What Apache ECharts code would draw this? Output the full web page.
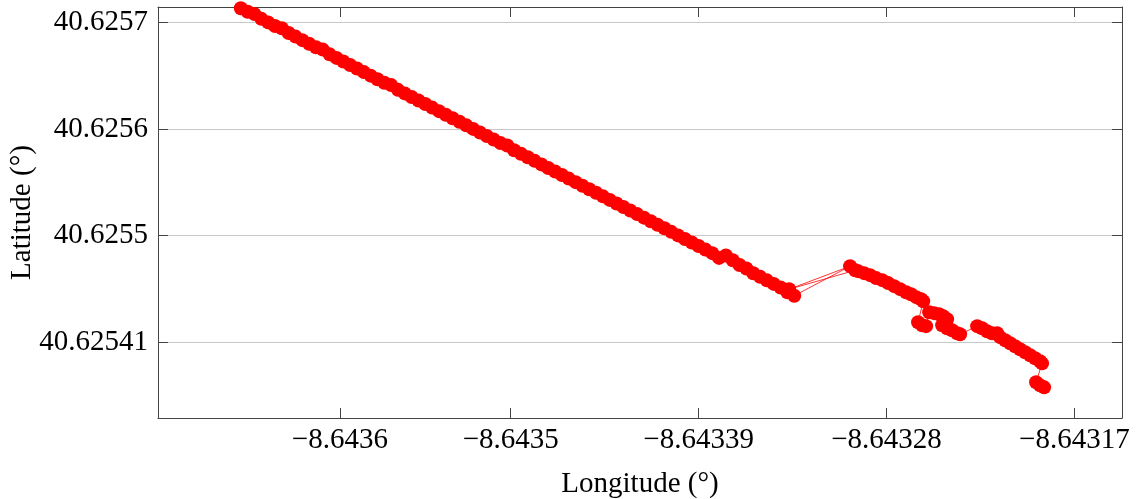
<!DOCTYPE html>
<html>
<head>
<meta charset="utf-8">
<script src="https://cdn.jsdelivr.net/npm/echarts@6/dist/echarts.min.js"></script>
<style>
  html, body { margin: 0; padding: 0; background: #fff; }
  #chart { width: 1140px; height: 499px; }
</style>
</head>
<body>
<div id="chart"></div>
<script>
// GPS track, longitude / latitude in degrees
const lonValues = [
  -8.643658, -8.643654, -8.643650, -8.643646, -8.643642, -8.643638, -8.643634, -8.643630,
  -8.643626, -8.643622, -8.643618, -8.643614, -8.643610, -8.643606, -8.643602, -8.643598,
  -8.643594, -8.643590, -8.643586, -8.643582, -8.643578, -8.643574, -8.643570, -8.643566,
  -8.643562, -8.643558, -8.643554, -8.643550, -8.643546, -8.643542, -8.643538, -8.643534,
  -8.643530, -8.643526, -8.643522, -8.643518, -8.643514, -8.643510, -8.643506, -8.643502,
  -8.643498, -8.643494, -8.643490, -8.643486, -8.643482, -8.643478, -8.643474, -8.643470,
  -8.643466, -8.643462, -8.643458, -8.643454, -8.643450, -8.643446, -8.643442, -8.643438,
  -8.643434, -8.643430, -8.643426, -8.643422, -8.643418, -8.643414, -8.643410, -8.643406,
  -8.643402, -8.643398, -8.643394, -8.643390, -8.643386, -8.643382, -8.643378, -8.643374,
  -8.643370, -8.643366, -8.643362, -8.643358, -8.643354, -8.643350, -8.643346, -8.643342,
  -8.643338, -8.643334,
  -8.6433013, -8.6433370,
  -8.6432983, -8.6432966, -8.6432931, -8.6432896, -8.6432861, -8.6432825, -8.6432790,
  -8.6432755, -8.6432720, -8.6432685, -8.6432656, -8.6432626, -8.6432597, -8.6432585,
  -8.6432615, -8.6432591, -8.6432568,
  -8.6432550, -8.6432521, -8.6432492, -8.6432468, -8.6432445, -8.6432451, -8.6432474,
  -8.6432445, -8.6432416, -8.6432386, -8.6432369,
  -8.6432269, -8.6432240, -8.6432211, -8.6432182, -8.6432152, -8.6432135, -8.6432105,
  -8.6432076, -8.6432047, -8.6432018, -8.6431988, -8.6431959, -8.6431930, -8.6431901,
  -8.6431889,
  -8.6431924, -8.6431901, -8.6431877
];
const latValues = [
  40.625692, 40.625689, 40.625687, 40.625683, 40.625680, 40.625677, 40.625675, 40.625671,
  40.625668, 40.625665, 40.625662, 40.625659, 40.625657, 40.625653, 40.625650, 40.625647,
  40.625644, 40.625641, 40.625638, 40.625635, 40.625632, 40.625629, 40.625627, 40.625623,
  40.625620, 40.625617, 40.625614, 40.625611, 40.625608, 40.625605, 40.625602, 40.625599,
  40.625596, 40.625593, 40.625590, 40.625587, 40.625584, 40.625581, 40.625578, 40.625576,
  40.625572, 40.625569, 40.625566, 40.625563, 40.625560, 40.625557, 40.625554, 40.625551,
  40.625548, 40.625545, 40.625542, 40.625539, 40.625536, 40.625533, 40.625530, 40.625527,
  40.625524, 40.625521, 40.625518, 40.625515, 40.625512, 40.625509, 40.625506, 40.625503,
  40.625500, 40.625497, 40.625494, 40.625491, 40.625488, 40.625485, 40.625481, 40.625483,
  40.625479, 40.625475, 40.625472, 40.625468, 40.625465, 40.625462, 40.625459, 40.625456,
  40.625452, 40.625449,
  40.6254740, 40.6254545,
  40.6254705, 40.6254698, 40.6254681, 40.6254664, 40.6254639, 40.6254622, 40.6254597,
  40.6254571, 40.6254546, 40.6254520, 40.6254503, 40.6254478, 40.6254461, 40.6254444,
  40.6254266, 40.6254241, 40.6254233,
  40.6254351, 40.6254343, 40.6254334, 40.6254317, 40.6254292, 40.6254266, 40.6254241,
  40.6254216, 40.6254199, 40.6254173, 40.6254165,
  40.6254233, 40.6254216, 40.6254190, 40.6254173, 40.6254173, 40.6254140, 40.6254114,
  40.6254089, 40.6254063, 40.6254038, 40.6254013, 40.6253987, 40.6253962, 40.6253936,
  40.6253919,
  40.6253759, 40.6253733, 40.6253716
];

const xTickValues = [-8.6436, -8.6435, -8.64339, -8.64328, -8.64317];
const xTickLabels = ['\u22128.6436', '\u22128.6435', '\u22128.64339', '\u22128.64328', '\u22128.64317'];
const yTickValues = [40.62541, 40.6255, 40.62559, 40.62568];
const yTickLabels = ['40.62541', '40.6255', '40.6256', '40.6257'];

const xMin = -8.6437065, xMax = -8.6431421;
const yMin = 40.6253457, yMax = 40.625693;

const FONT = '"Liberation Serif", "DejaVu Serif", serif';
const AXIS_COLOR = '#444';

const pickLabel = (values, labels) => (v) => {
  let best = 0;
  values.forEach((t, i) => {
    if (Math.abs(t - v) < Math.abs(values[best] - v)) best = i;
  });
  return labels[best];
};

const trackData = lonValues.map((lon, i) => [lon, latValues[i]]);

const chart = echarts.init(document.getElementById('chart'));

const baseX = {
  type: 'value',
  min: xMin,
  max: xMax,
  axisLine: { show: true, onZero: false, lineStyle: { color: AXIS_COLOR, width: 1 } },
  axisTick: { show: true, inside: true, length: 10, customValues: xTickValues, lineStyle: { color: AXIS_COLOR } },
  splitLine: { show: false },
};
const baseY = {
  type: 'value',
  min: yMin,
  max: yMax,
  axisLine: { show: true, onZero: false, lineStyle: { color: AXIS_COLOR, width: 1 } },
  axisTick: { show: true, inside: true, length: 10, customValues: yTickValues, lineStyle: { color: AXIS_COLOR } },
};

const option = {
  animation: false,
  grid: { left: 158, right: 18, top: 7, bottom: 81, containLabel: false, outerBoundsMode: 'none' },
  xAxis: [
    Object.assign({}, baseX, {
      position: 'bottom',
      name: 'Longitude (°)',
      nameLocation: 'middle',
      nameGap: 52,
      nameMoveOverlap: false,
      nameTextStyle: { fontFamily: FONT, fontSize: 29, color: '#000' },
      axisLabel: {
        customValues: xTickValues,
        formatter: pickLabel(xTickValues, xTickLabels),
        fontFamily: FONT, fontSize: 29, color: '#000', margin: 8,
      },
    }),
    Object.assign({}, baseX, { position: 'top', axisLabel: { show: false } }),
  ],
  yAxis: [
    Object.assign({}, baseY, {
      position: 'left',
      name: 'Latitude (°)',
      nameLocation: 'middle',
      nameGap: 121,
      nameMoveOverlap: false,
      nameTextStyle: { fontFamily: FONT, fontSize: 29, color: '#000' },
      axisLabel: {
        customValues: yTickValues,
        formatter: pickLabel(yTickValues, yTickLabels),
        fontFamily: FONT, fontSize: 29, color: '#000', margin: 10,
      },
      splitLine: { show: true, lineStyle: { color: '#c8c8c8', width: 1.2 } },
    }),
    Object.assign({}, baseY, { position: 'right', axisLabel: { show: false }, splitLine: { show: false } }),
  ],
  series: [
    {
      type: 'line',
      data: trackData,
      symbol: 'circle',
      symbolSize: 14,
      showSymbol: true,
      itemStyle: { color: '#ff0000' },
      lineStyle: { color: '#ff0000', width: 0.8 },
      clip: false,
    },
  ],
};

chart.setOption(option);
</script>
</body>
</html>
